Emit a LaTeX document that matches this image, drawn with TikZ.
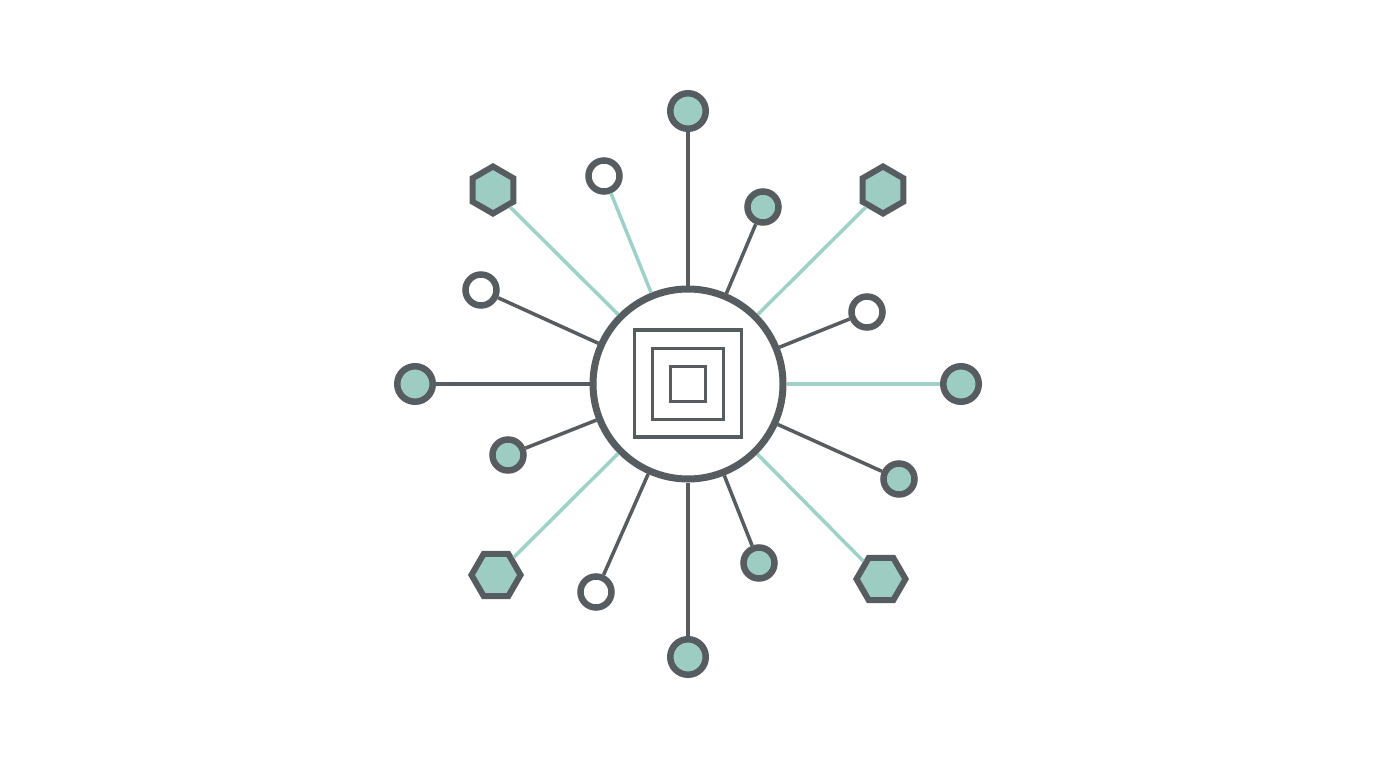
\documentclass[tikz,border=0pt]{standalone}
\usetikzlibrary{shapes.geometric}
\definecolor{dk}{HTML}{565C5F}
\definecolor{tl}{HTML}{9DCCC3}
\definecolor{tln}{HTML}{9ED2C8}
\tikzset{
  every node/.style={inner sep=0pt},
  bigdot/.style={circle,draw=dk,line width=6.5pt,fill=tl,minimum size=35.5pt},
  tdot/.style={circle,draw=dk,line width=6.5pt,fill=tl,minimum size=31pt},
  wdot/.style={circle,draw=dk,line width=6.5pt,fill=white,minimum size=31pt},
  hexup/.style={regular polygon,regular polygon sides=6,regular polygon rotate=30,draw=dk,line width=6pt,fill=tl,minimum size=47pt},
  hexflat/.style={regular polygon,regular polygon sides=6,draw=dk,line width=6pt,fill=tl,minimum size=49pt},
  hub/.style={circle,draw=dk,line width=7pt,fill=white,minimum size=190pt},
  sq/.style={rectangle,draw=dk,line width=3.8pt},
  gline/.style={draw=dk,line width=3.5pt},
  tline/.style={draw=tln,line width=3.5pt},
}
\begin{document}
\begin{tikzpicture}[x=1pt,y=-1pt]
\useasboundingbox[fill=white] (0,0) rectangle (1376,768);
\node[hub] (c) at (688,384) {};
\node[sq,minimum size=107pt] (s1) at (688,383.5) {};
\node[sq,minimum size=71pt] (s2) at (688,384) {};
\node[sq,minimum size=35pt] (s3) at (688,384) {};
% outer nodes
\node[bigdot] (n) at (688,111) {};
\node[bigdot] (s) at (688,657) {};
\node[bigdot] (w) at (415,384) {};
\node[bigdot] (e) at (961,384) {};
\node[hexup] (hnw) at (493,190) {};
\node[hexup] (hne) at (883,190) {};
\node[hexflat] (hsw) at (496,575) {};
\node[hexflat] (hse) at (881,579) {};
\node[wdot] (wa) at (604,176) {};
\node[wdot] (wb) at (481,290) {};
\node[wdot] (wc) at (867,312) {};
\node[wdot] (wd) at (596,592) {};
\node[tdot] (ta) at (763,207) {};
\node[tdot] (tb) at (508,455) {};
\node[tdot] (tc) at (899,479) {};
\node[tdot] (td) at (759,563) {};
% connectors
\draw[gline] (c) -- (n);
\draw[gline] (c) -- (s);
\draw[gline] (c) -- (w);
\draw[tline] (c) -- (e);
\draw[tline] (c) -- (hnw);
\draw[tline] (c) -- (hne);
\draw[tline] (c) -- (hsw);
\draw[tline] (c) -- (hse);
\draw[tline] (c) -- (wa);
\draw[gline] (c) -- (wb);
\draw[gline] (c) -- (wc);
\draw[gline] (c) -- (wd);
\draw[gline] (c) -- (ta);
\draw[gline] (c) -- (tb);
\draw[gline] (c) -- (tc);
\draw[gline] (c) -- (td);
\end{tikzpicture}
\end{document}
